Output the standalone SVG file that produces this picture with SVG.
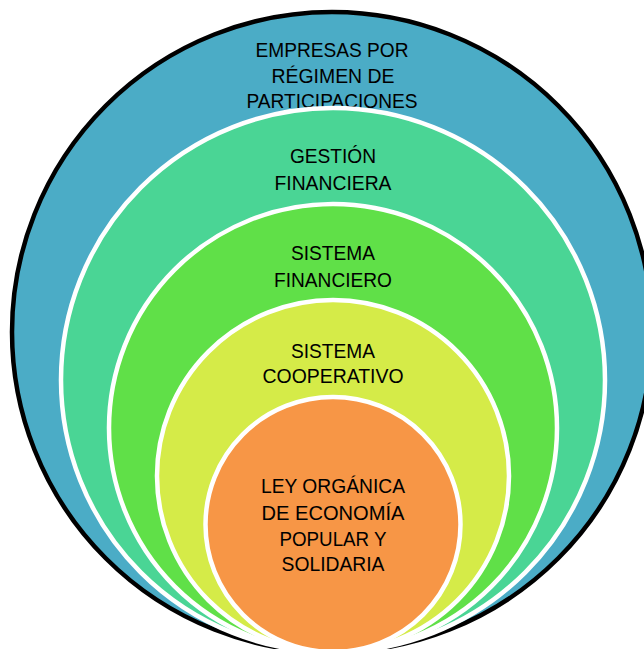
<svg xmlns="http://www.w3.org/2000/svg" width="644" height="649" viewBox="0 0 644 649">
<style>
.ring{stroke:#FFFFFF;stroke-width:4.5}
.t{font-family:"Liberation Sans",Arial,sans-serif;font-size:21px;fill:#000000;text-anchor:middle}
</style>
<rect width="644" height="649" fill="#FFFFFF"/>
<g id="node-empresas">
<circle cx="332" cy="332" r="320" fill="#4BACC6" stroke="#000000" stroke-width="4.5"/>
<text class="t" x="332" y="57" textLength="153" lengthAdjust="spacingAndGlyphs">EMPRESAS POR</text>
<text class="t" x="333" y="83" textLength="123" lengthAdjust="spacingAndGlyphs">RÉGIMEN DE</text>
<text class="t" x="332" y="108" textLength="171" lengthAdjust="spacingAndGlyphs">PARTICIPACIONES</text>
</g>
<g id="node-gestion">
<circle class="ring" cx="333" cy="380" r="272" fill="#4AD595"/>
<text class="t" x="333" y="163" textLength="86" lengthAdjust="spacingAndGlyphs">GESTIÓN</text>
<text class="t" x="333" y="190" textLength="117" lengthAdjust="spacingAndGlyphs">FINANCIERA</text>
</g>
<g id="node-sistema-financiero">
<circle class="ring" cx="333" cy="428" r="224" fill="#60E048"/>
<text class="t" x="333" y="260" textLength="84" lengthAdjust="spacingAndGlyphs">SISTEMA</text>
<text class="t" x="333" y="287" textLength="118" lengthAdjust="spacingAndGlyphs">FINANCIERO</text>
</g>
<g id="node-sistema-cooperativo">
<circle class="ring" cx="333" cy="476" r="176" fill="#D5EB48"/>
<text class="t" x="333" y="358" textLength="84" lengthAdjust="spacingAndGlyphs">SISTEMA</text>
<text class="t" x="333" y="383" textLength="141" lengthAdjust="spacingAndGlyphs">COOPERATIVO</text>
</g>
<g id="node-ley">
<circle class="ring" cx="333" cy="524.5" r="127.5" fill="#F79646"/>
<text class="t" x="333" y="493" textLength="144" lengthAdjust="spacingAndGlyphs">LEY ORGÁNICA</text>
<text class="t" x="333" y="520" textLength="143" lengthAdjust="spacingAndGlyphs">DE ECONOMÍA</text>
<text class="t" x="333" y="546" textLength="107" lengthAdjust="spacingAndGlyphs">POPULAR Y</text>
<text class="t" x="333" y="571" textLength="103" lengthAdjust="spacingAndGlyphs">SOLIDARIA</text>
</g>
<g id="connectors"/>
</svg>
